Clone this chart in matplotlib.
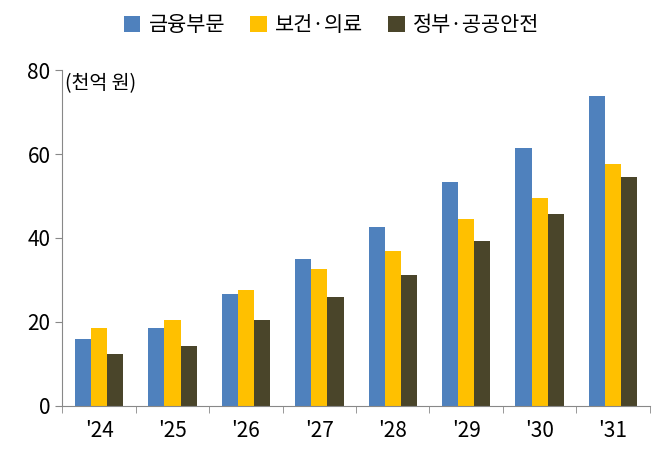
import matplotlib.pyplot as plt
from matplotlib import font_manager
import numpy as np

# pick whichever CJK family is actually registered
cjk = [f.name for f in font_manager.fontManager.ttflist if "CJK" in f.name]
kr = [n for n in cjk if "KR" in n]
plt.rcParams["font.family"] = (kr or cjk or ["DejaVu Sans"])[:1] + ["DejaVu Sans"]

years = ["'24", "'25", "'26", "'27", "'28", "'29", "'30", "'31"]
finance = [15.8, 18.6, 26.7, 35.0, 42.7, 53.4, 61.4, 73.8]
health = [18.6, 20.5, 27.6, 32.7, 36.9, 44.5, 49.5, 57.7]
gov = [12.4, 14.3, 20.5, 25.9, 31.2, 39.3, 45.7, 54.5]

fig = plt.figure(figsize=(6.63, 4.68), dpi=100)
ax = fig.add_axes([0.094, 0.133, 0.886, 0.717])

x = np.arange(len(years))
w = 0.22
ax.bar(x - w, finance, w, color="#4F81BD", label="금융부문")
ax.bar(x, health, w, color="#FFC000", label="보건·의료")
ax.bar(x + w, gov, w, color="#4A452A", label="정부·공공안전")

ax.set_xlim(-0.5, len(years) - 0.5)
ax.set_ylim(0, 80)
ax.set_yticks([0, 20, 40, 60, 80])
ax.set_xticks(x)
ax.set_xticklabels(years)
ax.set_xticks(np.arange(-0.5, len(years)), minor=True)
ax.tick_params(axis="x", which="major", length=0, pad=10, labelsize=15)
ax.tick_params(axis="x", which="minor", length=5, color="#888888")
ax.tick_params(axis="y", labelsize=15, length=5, color="#888888")
for s in ["top", "right"]:
    ax.spines[s].set_visible(False)
for s in ["left", "bottom"]:
    ax.spines[s].set_color("#888888")

ax.text(0.005, 0.99, "(천억 원)", transform=ax.transAxes, fontsize=14, va="top")
fig.legend(loc="upper center", ncol=3, frameon=False, fontsize=15,
           bbox_to_anchor=(0.5, 1.01), handlelength=0.8, handleheight=0.8,
           columnspacing=1.2, handletextpad=0.4)

fig.savefig("out.png", dpi=100)
